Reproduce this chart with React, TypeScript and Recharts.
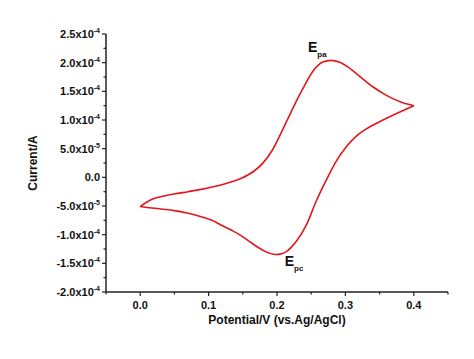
import React from 'react';
import { LineChart, Line, XAxis, YAxis, ReferenceDot } from 'recharts';

// forward (anodic) scan 0.0 -> 0.4 V
const fwdPotential = [
  0.0, 0.01, 0.021, 0.035, 0.05, 0.07, 0.089, 0.105, 0.123, 0.136, 0.148, 0.158, 0.167, 0.179, 0.194, 0.208,
  0.223, 0.238, 0.252, 0.267, 0.279, 0.291, 0.303, 0.316, 0.34, 0.36, 0.384, 0.4,
];
// current in units of 1e-4 A
const fwdCurrentE4 = [
  -0.51, -0.43, -0.366, -0.325, -0.29, -0.25, -0.21, -0.17, -0.117, -0.07, -0.017, 0.045, 0.115, 0.244, 0.49,
  0.824, 1.2, 1.55, 1.84, 2.01, 2.04, 2.01, 1.93, 1.81, 1.58, 1.43, 1.3, 1.25,
];
// reverse (cathodic) scan 0.4 -> 0.0 V
const revPotential = [
  0.4, 0.374, 0.35, 0.33, 0.316, 0.301, 0.286, 0.272, 0.257, 0.243, 0.228, 0.22, 0.213, 0.206, 0.198, 0.184,
  0.172, 0.16, 0.148, 0.133, 0.118, 0.105, 0.089, 0.07, 0.05, 0.021, 0.01, 0.0,
];
const revCurrentE4 = [
  1.25, 1.11, 0.97, 0.84, 0.72, 0.53, 0.27, -0.05, -0.425, -0.83, -1.12, -1.23, -1.3, -1.335, -1.345, -1.3,
  -1.22, -1.12, -1.02, -0.92, -0.83, -0.75, -0.686, -0.625, -0.58, -0.54, -0.525, -0.51,
];

const xTicks = [-0.05, 0, 0.05, 0.1, 0.15, 0.2, 0.25, 0.3, 0.35, 0.4, 0.45];
const xLabeled = [0, 0.1, 0.2, 0.3, 0.4];
const yTicks = [
  -2e-4, -1.75e-4, -1.5e-4, -1.25e-4, -1e-4, -7.5e-5, -5e-5, -2.5e-5, 0, 2.5e-5, 5e-5, 7.5e-5, 1e-4, 1.25e-4,
  1.5e-4, 1.75e-4, 2e-4, 2.25e-4, 2.5e-4,
];
const peakAnodic = { v: 0.259, i: 2.27e-4, main: 'E', sub: 'pa' };
const peakCathodic = { v: 0.225, i: -1.46e-4, main: 'E', sub: 'pc' };

const fwdData = fwdPotential.map((v, k) => ({ v, i: fwdCurrentE4[k] * 1e-4 }));
// sorted by potential so a monotone-x curve can be used; the drawn path is the same
const revData = revPotential.map((v, k) => ({ v, i: revCurrentE4[k] * 1e-4 })).reverse();

const FONT = 'Liberation Sans, Arial, sans-serif';
const RED = '#e3161c';

const isMajorY = (val: number) => Math.abs(Math.round(val / 5e-5) * 5e-5 - val) < 1e-9;

const YTick = (props: any) => {
  const { x, y, payload } = props;
  const val = payload.value as number;
  const major = isMajorY(val);
  let mant = '0.0';
  let exp = '';
  if (Math.abs(val) > 1e-12) {
    const parts = val.toExponential(1).split('e');
    mant = parts[0];
    exp = String(parseInt(parts[1], 10));
  }
  return (
    <g>
      <line x1={x} x2={x - (major ? 4 : 2.5)} y1={y} y2={y} stroke="#222" strokeWidth={1.2} />
      {major && (
        <text x={x - 6} y={y + 4} textAnchor="end" fontFamily={FONT} fontWeight="bold" fontSize={11} fill="#111">
          {exp ? (
            <>
              <tspan>{mant + 'x10'}</tspan>
              <tspan dy={-5} fontSize={7}>{exp}</tspan>
            </>
          ) : (
            mant
          )}
        </text>
      )}
    </g>
  );
};

const XTick = (props: any) => {
  const { x, y, payload } = props;
  const val = payload.value as number;
  const major = xLabeled.some((t) => Math.abs(t - val) < 1e-9);
  return (
    <g>
      <line x1={x} x2={x} y1={y} y2={y + (major ? 4 : 2.5)} stroke="#222" strokeWidth={1.2} />
      {major && (
        <text x={x} y={y + 17} textAnchor="middle" fontFamily={FONT} fontWeight="bold" fontSize={11} fill="#111">
          {val.toFixed(1)}
        </text>
      )}
    </g>
  );
};

const PeakLabel = (text: { main: string; sub: string }) => (props: any) => {
  const { viewBox } = props;
  const cx = viewBox.x + (viewBox.width || 0) / 2;
  const cy = viewBox.y + (viewBox.height || 0) / 2;
  return (
    <text x={cx} y={cy + 5} textAnchor="middle" fontFamily={FONT} fontWeight="bold" fontSize={14} fill="#111">
      <tspan>{text.main}</tspan>
      <tspan dy={5} fontSize={8}>{text.sub}</tspan>
    </text>
  );
};

const App: React.FC = () => {
  return (
    <div style={{ position: 'absolute', left: 0, top: 0, background: '#fff' }}>
      <LineChart width={474} height={359} margin={{ top: 34, right: 26, left: 46, bottom: 37 }}>
        <XAxis
          dataKey="v"
          type="number"
          domain={[-0.05, 0.45]}
          ticks={xTicks}
          interval={0}
          tick={<XTick />}
          tickLine={false}
          tickSize={0}
          tickMargin={0}
          height={30}
          allowDuplicatedCategory={false}
          axisLine={{ stroke: '#222', strokeWidth: 1.5 }}
          label={{
            value: 'Potential/V (vs.Ag/AgCl)',
            position: 'insideBottom',
            offset: -2,
            style: { fontFamily: FONT, fontWeight: 'bold', fontSize: 12, fill: '#111' },
          }}
        />
        <YAxis
          type="number"
          domain={[-2e-4, 2.5e-4]}
          ticks={yTicks}
          interval={0}
          tick={<YTick />}
          tickLine={false}
          tickSize={0}
          tickMargin={0}
          width={60}
          axisLine={{ stroke: '#222', strokeWidth: 1.5 }}
          label={{
            value: 'Current/A',
            angle: -90,
            position: 'insideLeft',
            offset: -13,
            style: { fontFamily: FONT, fontWeight: 'bold', fontSize: 12, fill: '#111', textAnchor: 'middle' },
          }}
        />
        <Line
          data={fwdData}
          dataKey="i"
          type="monotone"
          stroke={RED}
          strokeWidth={1.6}
          dot={false}
          isAnimationActive={false}
        />
        <Line
          data={revData}
          dataKey="i"
          type="monotone"
          stroke={RED}
          strokeWidth={1.6}
          dot={false}
          isAnimationActive={false}
        />
        <ReferenceDot x={peakAnodic.v} y={peakAnodic.i} r={0} label={PeakLabel(peakAnodic)} />
        <ReferenceDot x={peakCathodic.v} y={peakCathodic.i} r={0} label={PeakLabel(peakCathodic)} />
      </LineChart>
    </div>
  );
};

export default App;
